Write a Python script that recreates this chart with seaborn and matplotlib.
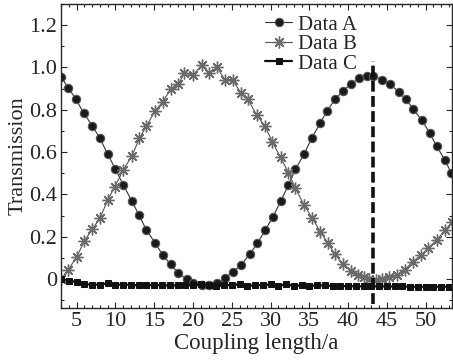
import numpy as np
import pandas as pd
import matplotlib
matplotlib.use("Agg")
import matplotlib.pyplot as plt
from matplotlib.ticker import MultipleLocator, FuncFormatter
import seaborn as sns

# --- data ---
a_x = [3.0, 3.9, 4.9, 5.9, 7.0, 8.0, 9.0, 10.0, 11.0, 12.1, 13.0, 14.0, 15.1, 16.1,
       17.1, 18.1, 19.2, 20.0, 21.1, 22.1, 23.1, 24.1, 25.1, 26.2, 27.3, 28.3, 29.3,
       30.3, 31.3, 32.3, 33.2, 34.3, 35.3, 36.4, 37.3, 38.3, 39.3, 40.4, 41.4, 42.4,
       43.2, 44.3, 45.4, 46.5, 47.5, 48.4, 49.5, 50.5, 51.4, 52.5, 53.3]
a_y = [0.955, 0.905, 0.85, 0.785, 0.725, 0.665, 0.59, 0.52, 0.445, 0.37, 0.305, 0.231,
       0.172, 0.113, 0.071, 0.027, 0.0, -0.018, -0.026, -0.026, -0.018, 0.003, 0.034,
       0.066, 0.118, 0.169, 0.231, 0.294, 0.368, 0.444, 0.518, 0.59, 0.665, 0.738,
       0.795, 0.849, 0.887, 0.924, 0.948, 0.959, 0.962, 0.943, 0.921, 0.885, 0.849,
       0.802, 0.751, 0.691, 0.628, 0.562, 0.499]

b_x = [3.0, 3.9, 5.0, 6.0, 7.0, 8.0, 9.0, 9.9, 11.0, 12.1, 13.1, 14.0, 15.1, 16.1,
       17.1, 18.1, 18.9, 20.0, 21.1, 22.1, 23.1, 24.1, 25.1, 26.2, 27.1, 28.2, 29.3,
       30.2, 31.3, 32.3, 33.2, 34.3, 35.4, 36.4, 37.4, 38.3, 39.3, 40.4, 41.3, 42.0,
       42.7, 43.6, 44.4, 45.3, 46.3, 47.3, 48.3, 49.4, 50.3, 51.4, 52.5, 53.4]
b_y = [0.0, 0.043, 0.105, 0.18, 0.235, 0.287, 0.373, 0.436, 0.515, 0.581, 0.665, 0.723,
       0.794, 0.838, 0.896, 0.92, 0.975, 0.964, 1.011, 0.972, 1.0, 0.943, 0.943, 0.877,
       0.849, 0.775, 0.723, 0.649, 0.575, 0.502, 0.43, 0.35, 0.287, 0.224, 0.169, 0.118,
       0.07, 0.04, 0.019, 0.008, -0.001, -0.005, -0.001, 0.008, 0.019, 0.043, 0.082,
       0.113, 0.145, 0.184, 0.231, 0.27]

c_x = list(range(3, 54))
c_y = [0.0, -0.01, -0.012, -0.025, -0.026, -0.026, -0.02, -0.027, -0.026, -0.027,
       -0.03, -0.03, -0.028, -0.03, -0.03, -0.03, -0.028, -0.03, -0.025, -0.03, -0.032,
       -0.03, -0.028, -0.025, -0.033, -0.028, -0.03, -0.025, -0.033, -0.024, -0.032,
       -0.03, -0.032, -0.03, -0.03, -0.033, -0.033, -0.033, -0.034, -0.034, -0.035,
       -0.035, -0.035, -0.035, -0.035, -0.036, -0.036, -0.036, -0.036, -0.036, -0.036]

cut_x = 43.2
cut_ymin, cut_ymax = -0.12, 1.03

series_names = ["Data A", "Data B", "Data C"]

# --- style ---
sns.set_style("ticks")
plt.rcParams['font.family'] = ['Liberation Serif', 'DejaVu Serif']

fig = plt.figure(figsize=(4.53, 3.62), dpi=100)
ax = fig.add_axes([0.135, 0.149, 0.863, 0.84])

df_a = pd.DataFrame({"x": a_x, "y": a_y})
df_b = pd.DataFrame({"x": b_x, "y": b_y})
df_c = pd.DataFrame({"x": c_x, "y": c_y})

sns.lineplot(data=df_a, x="x", y="y", ax=ax, color="#333333", lw=0.8,
             marker="o", markersize=6, markerfacecolor="#1a1a1a",
             markeredgecolor="#555555", markeredgewidth=0.8, label=series_names[0])
sns.lineplot(data=df_b, x="x", y="y", ax=ax, color="#555555", lw=0.8,
             marker=(8, 2, 0), markersize=8.5, markeredgecolor="#6a6a6a",
             markeredgewidth=1.0, label=series_names[1])
sns.lineplot(data=df_c, x="x", y="y", ax=ax, color="#111111", lw=1.6,
             marker="s", markersize=4, markerfacecolor="#111111",
             markeredgecolor="#111111", label=series_names[2])

ax.vlines(cut_x, cut_ymin, cut_ymax, colors="#111111", linestyles=(0, (3, 1.2)), lw=2.6)

ax.set_xlim(3, 53.4)
ax.set_xticks(range(5, 55, 5))
ax.xaxis.set_minor_locator(MultipleLocator(1))
ax.yaxis.set_major_locator(MultipleLocator(0.2))
ax.yaxis.set_minor_locator(MultipleLocator(0.1))
ax.yaxis.set_major_formatter(FuncFormatter(lambda v, p: "0" if abs(v) < 1e-9 else f"{v:.1f}"))
ax.set_ylim(-0.137, 1.30)

ax.tick_params(which="both", direction="in", top=True, right=True, labelsize=16,
               width=0.8, pad=3)
ax.tick_params(which="major", length=4)
ax.tick_params(which="minor", length=2)
for s in ax.spines.values():
    s.set_linewidth(1.0)

ax.set_xlabel("Coupling length/a", fontsize=16.5, labelpad=1)
ax.set_ylabel("Transmission", fontsize=16, labelpad=1)

leg = ax.legend(loc="upper left", bbox_to_anchor=(0.49, 1.005), frameon=False,
                fontsize=15, handlelength=1.3, handletextpad=0.25, labelspacing=0.0,
                borderpad=0.1)

fig.savefig("out.png", dpi=100)
